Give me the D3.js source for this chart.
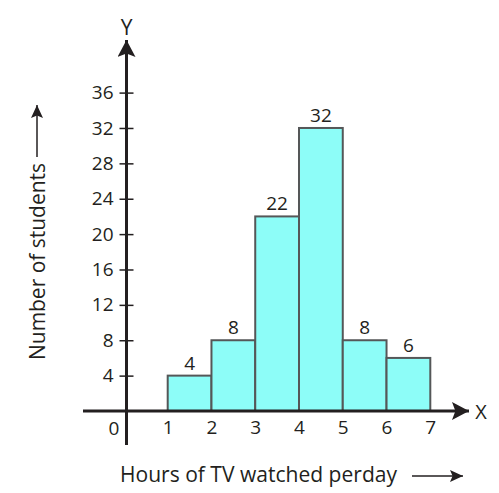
<!DOCTYPE html>
<html>
<head>
<meta charset="utf-8">
<script src="https://cdn.jsdelivr.net/npm/d3@7"></script>
<style>
  body { margin: 0; background: #fff; }
  text { font-family: "Open Sans", "Noto Sans", sans-serif; fill: #231f20; }
</style>
</head>
<body>
<div id="chart"></div>
<script>
// histogram data
var hourBins = [[1, 2], [2, 3], [3, 4], [4, 5], [5, 6], [6, 7]];
var students = [4, 8, 22, 32, 8, 6];
var xTicks = [1, 2, 3, 4, 5, 6, 7];
var yTicks = [4, 8, 12, 16, 20, 24, 28, 32, 36];

var width = 499, height = 493;
var axisColor = '#231f20';
var font = '"Open Sans", "Noto Sans", sans-serif';

var svg = d3.select('#chart').append('svg')
    .attr('width', width)
    .attr('height', height);

var x = d3.scaleLinear().domain([1, 7]).range([167.7, 430.3]);
var y = d3.scaleLinear().domain([0, 36]).range([411, 92.6]);

var axisX = 126.5;   // where the y axis sits
var axisY = y(0);

// arrow heads: big for the axes, small for the titles
var defs = svg.append('defs');
function head(id, len, wid) {
    defs.append('marker')
        .attr('id', id)
        .attr('viewBox', '0 0 ' + len + ' ' + wid)
        .attr('refX', len).attr('refY', wid / 2)
        .attr('markerWidth', len).attr('markerHeight', wid)
        .attr('markerUnits', 'userSpaceOnUse')
        .attr('orient', 'auto')
        .append('path')
        .attr('d', 'M0,0 L' + len + ',' + (wid / 2) + ' L0,' + wid + ' L' + (len * 0.2) + ',' + (wid / 2) + ' Z')
        .attr('fill', axisColor);
}
head('bighead', 17, 18);
head('smallhead', 13, 12);

// bars
svg.selectAll('rect.bar')
    .data(students)
    .enter()
    .append('rect')
    .attr('class', 'bar')
    .attr('x', function(d, i) { return x(hourBins[i][0]); })
    .attr('width', function(d, i) { return x(hourBins[i][1]) - x(hourBins[i][0]); })
    .attr('y', function(d) { return y(d); })
    .attr('height', function(d) { return y(0) - y(d); })
    .attr('fill', '#8dfdf8')
    .attr('stroke', '#555758')
    .attr('stroke-width', 2);

// value labels
svg.selectAll('text.val')
    .data(students)
    .enter()
    .append('text')
    .attr('class', 'val')
    .attr('x', function(d, i) { return (x(hourBins[i][0]) + x(hourBins[i][1])) / 2; })
    .attr('y', function(d) { return y(d) - 6; })
    .attr('text-anchor', 'middle')
    .style('font-size', '19px')
    .text(function(d) { return d; });

// y axis ticks + labels
var yAxis = d3.axisLeft(y)
    .tickValues(yTicks)
    .tickFormat(d3.format('d'))
    .tickSize(0)
    .tickPadding(13);

var gy = svg.append('g')
    .attr('transform', 'translate(' + axisX + ',0)')
    .call(yAxis);
gy.select('.domain').remove();
gy.selectAll('.tick text')
    .style('font-family', font)
    .style('font-size', '19px')
    .attr('fill', axisColor);
gy.selectAll('.tick').append('line')
    .attr('x1', -7).attr('x2', 7)
    .attr('stroke', axisColor)
    .attr('stroke-width', 1.5);

svg.append('line')
    .attr('x1', axisX).attr('x2', axisX)
    .attr('y1', 445).attr('y2', 40)
    .attr('stroke', axisColor)
    .attr('stroke-width', 3)
    .attr('marker-end', 'url(#bighead)');

// x axis
var xAxis = d3.axisBottom(x)
    .tickValues(xTicks)
    .tickFormat(d3.format('d'))
    .tickSize(0)
    .tickPadding(10);

var gx = svg.append('g')
    .attr('transform', 'translate(0,' + axisY + ')')
    .call(xAxis);
gx.select('.domain').remove();
gx.selectAll('.tick text')
    .style('font-family', font)
    .style('font-size', '19px')
    .attr('fill', axisColor);

svg.append('line')
    .attr('x1', 83).attr('x2', 469)
    .attr('y1', axisY).attr('y2', axisY)
    .attr('stroke', axisColor)
    .attr('stroke-width', 3)
    .attr('marker-end', 'url(#bighead)');

// origin
svg.append('text')
    .attr('x', 114)
    .attr('y', 435)
    .attr('text-anchor', 'middle')
    .style('font-size', '19px')
    .text('0');

// axis letters
svg.append('text')
    .attr('x', axisX)
    .attr('y', 35)
    .attr('text-anchor', 'middle')
    .style('font-size', '21px')
    .text('Y');

svg.append('text')
    .attr('x', 481)
    .attr('y', 419)
    .attr('text-anchor', 'middle')
    .style('font-size', '20px')
    .text('X');

// axis titles
svg.append('text')
    .attr('x', 120)
    .attr('y', 482)
    .style('font-size', '21px')
    .attr('textLength', 277)
    .attr('lengthAdjust', 'spacingAndGlyphs')
    .text('Hours of TV watched perday');

svg.append('line')
    .attr('x1', 412).attr('x2', 463)
    .attr('y1', 476).attr('y2', 476)
    .attr('stroke', axisColor)
    .attr('stroke-width', 1.5)
    .attr('marker-end', 'url(#smallhead)');

svg.append('text')
    .attr('transform', 'translate(45,360) rotate(-90)')
    .style('font-size', '21px')
    .attr('textLength', 197)
    .attr('lengthAdjust', 'spacingAndGlyphs')
    .text('Number of students');

svg.append('line')
    .attr('x1', 37).attr('x2', 37)
    .attr('y1', 157).attr('y2', 105)
    .attr('stroke', axisColor)
    .attr('stroke-width', 1.5)
    .attr('marker-end', 'url(#smallhead)');
</script>
</body>
</html>
